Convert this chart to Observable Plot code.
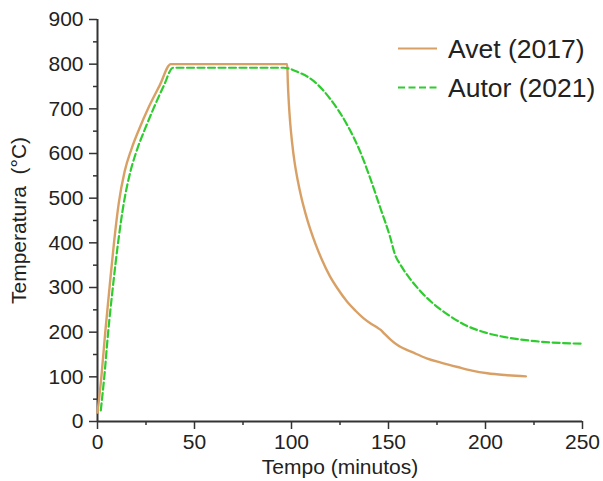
<!DOCTYPE html>
<html>
<head>
<meta charset="utf-8">
<script src="https://cdn.jsdelivr.net/npm/d3@7"></script>
<script src="https://cdn.jsdelivr.net/npm/@observablehq/plot@0.6"></script>
<style>
  html, body { margin: 0; padding: 0; background: #fff; }
  #chart { width: 603px; height: 481px; }
</style>
</head>
<body>
<div id="chart"></div>
<script>
// Avet (2017)
const avetTime = [0, 2, 4, 6.2, 8.5, 11, 14, 17.5, 21.5, 26.2, 32, 37.8, 97.8,
  98.1, 98.6, 99.3, 100.3, 101.6, 103.2, 105, 107.2, 109.7, 112.5, 115.8, 119.7, 124, 128.7, 133, 137.2, 141, 144, 146, 148, 150.9,
  155, 162.9, 170, 177, 185.6, 193, 201, 210, 220.8];
const avetTemp = [20, 100, 200, 300, 400, 490, 560, 610, 655, 702, 752, 800, 800,
  760, 715, 670, 625, 580, 540, 503, 466, 430, 396, 361, 326, 296, 268, 248, 231, 219, 211, 205, 196, 184,
  170, 154, 141, 132, 122, 114, 108, 104, 101];
// Autor (2021)
const autorTime = [1.7, 3.5, 5.5, 7.9, 10.6, 13.6, 17, 20.5, 24.5, 29, 34, 39, 96,
  103, 111.5, 120, 128.7, 135.5, 140.7, 145.8, 150.9, 153.5, 156, 160, 166, 172, 180, 190, 200, 210, 223, 250];
const autorTemp = [25, 100, 200, 300, 400, 490, 560, 610, 655, 702, 750, 792, 792,
  783, 762, 722, 664, 603, 543, 478, 412, 372, 352, 326, 294, 268, 241, 215, 199, 189, 181, 174];

const xTicks = [0, 50, 100, 150, 200, 250];
const xMinor = [25, 75, 125, 175, 225];
const yTicks = [0, 100, 200, 300, 400, 500, 600, 700, 800, 900];
const yMinor = [50, 150, 250, 350, 450, 550, 650, 750, 850];

const seriesNames = ["Avet (2017)", "Autor (2021)"];
const seriesColors = ["#d9a066", "#2ecc2e"];
const seriesDash = [null, "7,3.5"];

const avet = avetTime.map((t, i) => ({t, v: avetTemp[i]}));
const autor = autorTime.map((t, i) => ({t, v: autorTemp[i]}));

const axisColor = "#333";
const font = "'Liberation Sans', Arial, sans-serif";
const chart = Plot.plot({
  width: 603,
  height: 481,
  marginLeft: 97,
  marginRight: 21,
  marginTop: 19,
  marginBottom: 60,
  style: {fontFamily: font, color: "#222", background: "#fff"},
  x: {domain: [0, 250]},
  y: {domain: [0, 900]},
  marks: [
    Plot.axisX({ticks: xTicks, tickSize: 8, tickPadding: 5, fontSize: 21, stroke: axisColor, strokeWidth: 1.5,
      label: "Tempo (minutos)", labelAnchor: "center", labelArrow: "none", labelOffset: 52}),
    Plot.axisX({ticks: xMinor, tickSize: 4, tickFormat: () => "", stroke: axisColor, strokeWidth: 1.5, label: null}),
    Plot.axisY({ticks: yTicks, tickSize: 8, tickPadding: 6, fontSize: 21, stroke: axisColor, strokeWidth: 1.5,
      label: "Temperatura  (°C)", labelAnchor: "center", labelArrow: "none", labelOffset: 86}),
    Plot.axisY({ticks: yMinor, tickSize: 4, tickFormat: () => "", stroke: axisColor, strokeWidth: 1.5, label: null}),
    Plot.ruleY([0], {stroke: axisColor, strokeWidth: 2}),
    Plot.ruleX([0], {stroke: axisColor, strokeWidth: 2}),
    Plot.line(avet, {x: "t", y: "v", stroke: seriesColors[0], strokeWidth: 2.4, curve: "monotone-x"}),
    Plot.line(autor, {x: "t", y: "v", stroke: seriesColors[1], strokeWidth: 2.2, strokeDasharray: seriesDash[1], curve: "monotone-x"})
  ]
});
document.getElementById("chart").appendChild(chart);

// Legend
const svg = d3.select(chart);
const lg = svg.append("g").attr("font-family", font).attr("font-size", 26.5).attr("fill", "#222").attr("text-anchor", "start");
seriesNames.forEach((name, i) => {
  const y = 48.5 + i * 39;
  lg.append("line").attr("x1", 398).attr("x2", 437).attr("y1", y).attr("y2", y)
    .attr("stroke", seriesColors[i]).attr("stroke-width", 2.2)
    .attr("stroke-dasharray", seriesDash[i]);
  lg.append("text").attr("x", 448).attr("y", y).attr("dy", "0.35em").attr("text-anchor", "start").text(name);
});
</script>
</body>
</html>
